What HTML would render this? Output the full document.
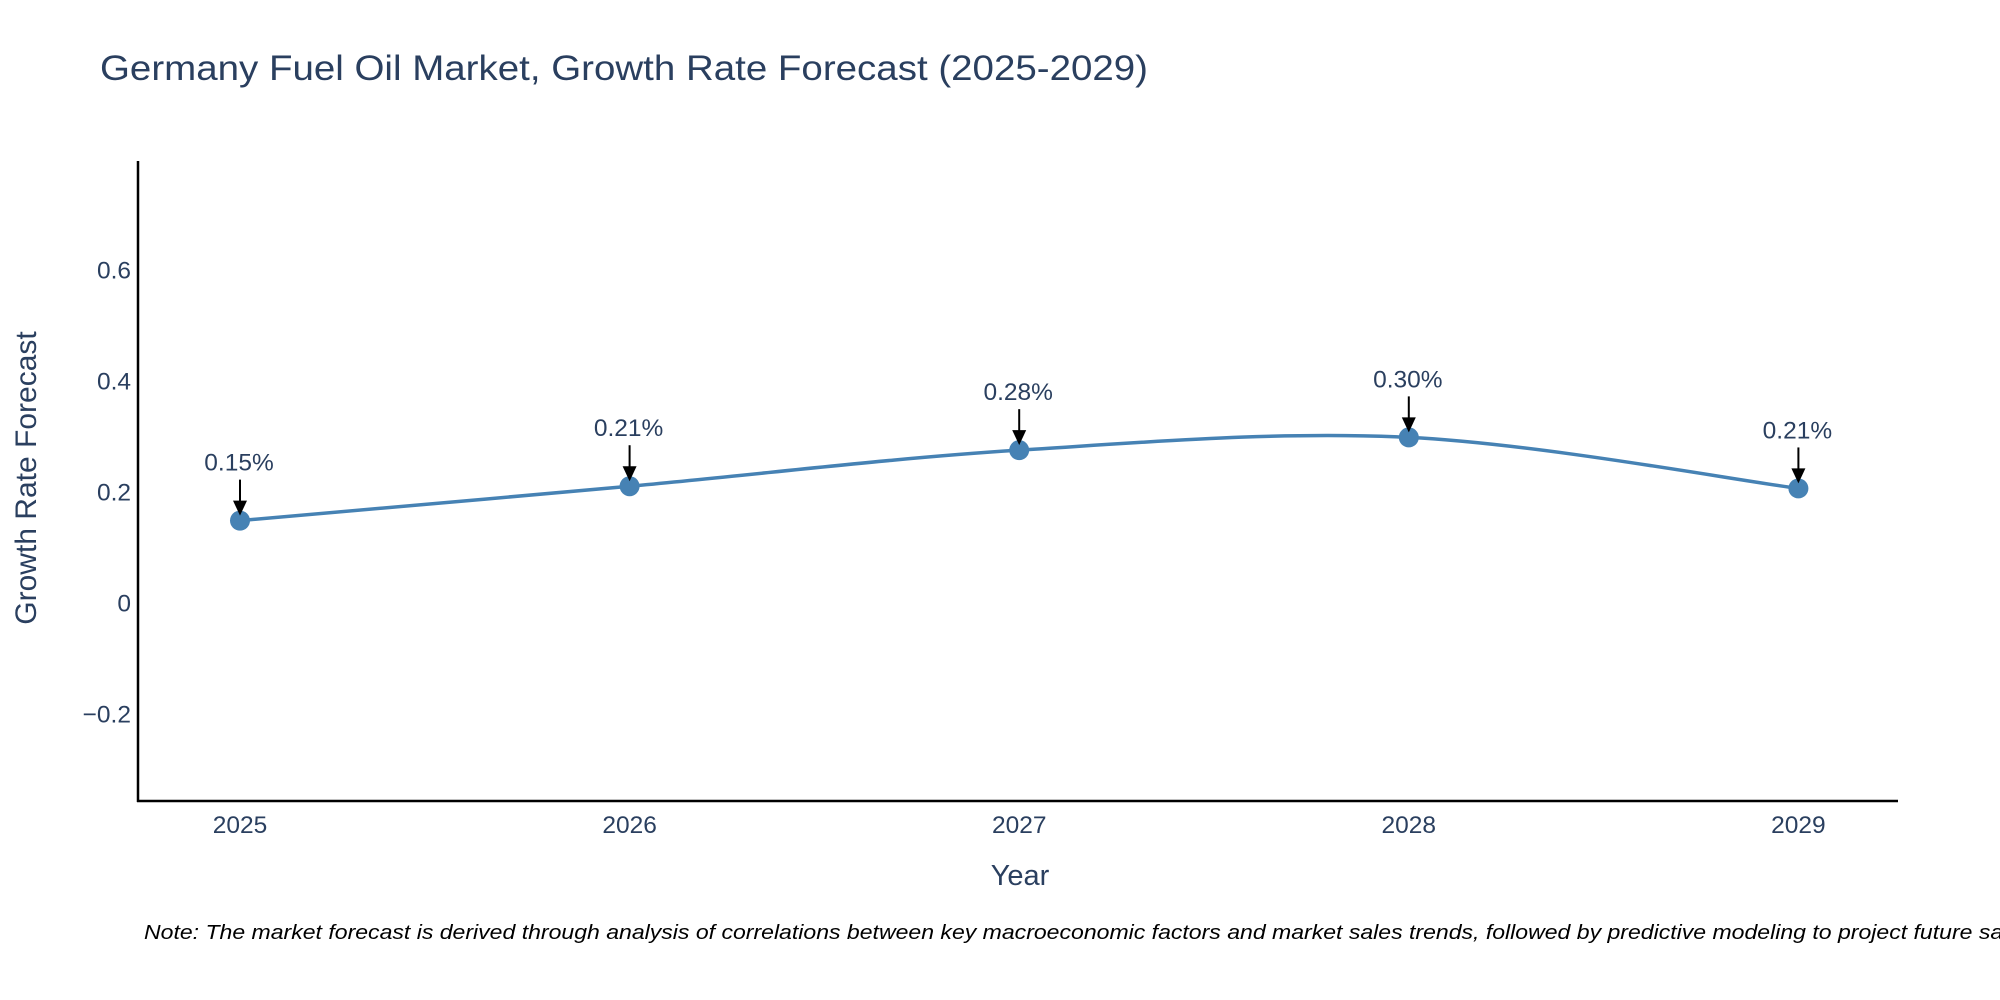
<!DOCTYPE html>
<html><head><meta charset="utf-8"><style>
html,body{margin:0;padding:0;background:#fff;width:2000px;height:1000px;overflow:hidden}
text{font-family:"Liberation Sans",sans-serif;fill:#2a3f5f}
</style></head><body>
<svg id="chart" width="2000" height="1000" xmlns="http://www.w3.org/2000/svg">
<text x="100" y="80" font-size="35" textLength="1048" lengthAdjust="spacingAndGlyphs">Germany Fuel Oil Market, Growth Rate Forecast (2025-2029)</text>
<g id="yticks"></g><g id="xticks"></g>
<line x1="138" y1="161" x2="138" y2="802" stroke="#000" stroke-width="2.5"/>
<line x1="137" y1="801" x2="1898" y2="801" stroke="#000" stroke-width="2.5"/>
<text transform="translate(36,478) rotate(-90)" font-size="30" text-anchor="middle">Growth Rate Forecast</text>
<text x="1020" y="885" font-size="29" text-anchor="middle">Year</text>
<g id="series"></g>
<text x="144" y="939" font-size="20" font-style="italic" style="fill:#000" textLength="1895" lengthAdjust="spacingAndGlyphs">Note: The market forecast is derived through analysis of correlations between key macroeconomic factors and market sales trends, followed by predictive modeling to project future sales.</text>
</svg>
<script>
const years=[2025,2026,2027,2028,2029];
const values=[0.149,0.211,0.276,0.299,0.207];
const labels=["0.15%","0.21%","0.28%","0.30%","0.21%"];
const yTicks=[-0.2,0,0.2,0.4,0.6];
const yTickLabels=["\u22120.2","0","0.2","0.4","0.6"];
const NS="http://www.w3.org/2000/svg";
const xs=y=>240+(y-2025)*389.6;
const ys=v=>603.3-v*554.9;
function el(t,a,p){const e=document.createElementNS(NS,t);for(const k in a)e.setAttribute(k,a[k]);p.appendChild(e);return e;}
const yt=document.getElementById('yticks');
yTicks.forEach((v,i)=>{const t=el('text',{x:131,y:ys(v)+8,'font-size':24.5,'text-anchor':'end'},yt);


t.textContent=yTickLabels[i];});
const xt=document.getElementById('xticks');
years.forEach(y=>{const t=el('text',{x:xs(y),y:833,'font-size':24.5,'text-anchor':'middle'},xt);


t.textContent=y;});
const s=document.getElementById('series');
const P=years.map((y,i)=>[xs(y),ys(values[i])]);
let d=`M${P[0][0]},${P[0][1]}`;
for(let i=0;i<P.length-1;i++){const p0=P[Math.max(i-1,0)],p1=P[i],p2=P[i+1],p3=P[Math.min(i+2,P.length-1)];
const c1=[p1[0]+(p2[0]-p0[0])/6,p1[1]+(p2[1]-p0[1])/6],c2=[p2[0]-(p3[0]-p1[0])/6,p2[1]-(p3[1]-p1[1])/6];
d+=` C${c1[0]},${c1[1]} ${c2[0]},${c2[1]} ${p2[0]},${p2[1]}`;}
const line=el('path',{d:d,fill:'none',stroke:'#4682b4','stroke-width':3.5},s);


P.forEach((p,i)=>{
const c=el('circle',{cx:p[0],cy:p[1],r:10,fill:'#4682b4'},s);


const a=el('line',{x1:p[0],y1:p[1]-41,x2:p[0],y2:p[1]-18,stroke:'#000','stroke-width':2},s);


const h=el('path',{d:`M${p[0]-7},${p[1]-20} L${p[0]+7},${p[1]-20} L${p[0]},${p[1]-5} Z`,fill:'#000'},s);


const t=el('text',{x:p[0]-1,y:p[1]-50,'font-size':24.5,'text-anchor':'middle'},s);


t.textContent=labels[i];});
</script>
</body></html>
